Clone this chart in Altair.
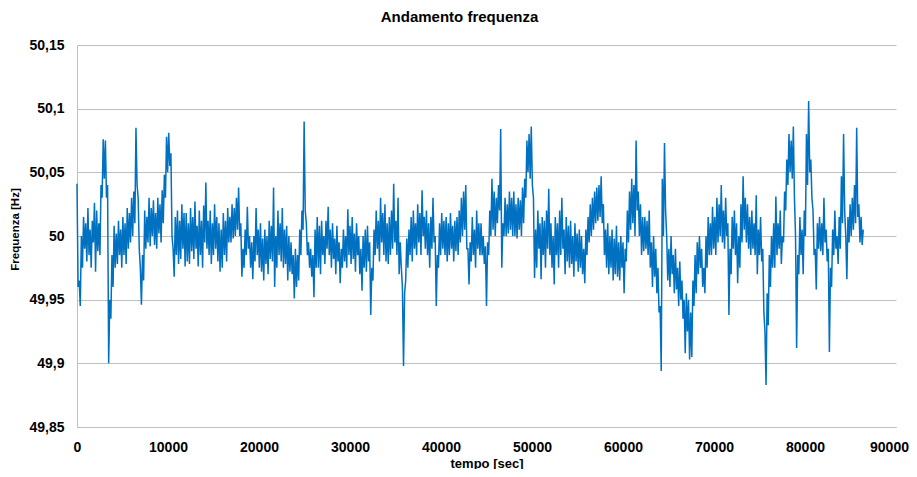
import altair as alt
import pandas as pd

# The recording alternates between two interleaved reading slots:
# slot A at t = 0, 240, 480, ... s and slot B at t = 120, 360, 600, ... s
SLOT_STEP_S = 240
SLOT_B_OFFSET_S = 120

# Slot A readings in Hz (10 per row = 2400 s)
freq_slot_a_hz = [
    50.041, 49.965, 50.000, 50.015, 50.010, 50.022, 50.005, 50.012, 50.026, 50.020,
    50.010, 50.040, 50.076, 50.075, 50.040, 49.950, 49.985, 50.008, 50.002, 50.012,
    50.005, 50.015, 50.010, 50.022, 50.018, 50.030, 50.035, 50.085, 50.030, 49.975,
    49.985, 50.020, 50.015, 50.030, 50.022, 50.028, 50.018, 50.030, 50.025, 50.036,
    50.048, 50.078, 50.081, 50.065, 49.990, 50.015, 50.020, 50.012, 50.025, 50.018,
    50.018, 50.010, 50.022, 50.015, 50.027, 50.008, 50.020, 50.012, 50.024, 50.042,
    50.012, 50.020, 50.010, 50.025, 50.015, 50.010, 50.005, 50.018, 50.012, 50.022,
    50.015, 50.025, 50.022, 50.030, 50.038, 50.010, 49.990, 50.005, 50.023, 50.000,
    49.995, 50.000, 50.022, 50.005, 50.010, 49.998, 50.005, 50.000, 50.012, 50.008,
    50.038, 50.000, 50.020, 50.010, 50.022, 50.005, 50.008, 50.000, 49.995, 49.985,
    49.990, 49.985, 50.005, 50.020, 50.090, 50.010, 49.995, 49.990, 49.985, 50.005,
    50.015, 50.008, 50.012, 50.000, 50.012, 50.023, 50.005, 50.010, 49.998, 50.008,
    49.995, 49.990, 50.005, 50.000, 50.021, 50.008, 50.015, 50.002, 50.010, 50.000,
    49.990, 50.000, 50.005, 50.008, 49.995, 49.975, 50.005, 50.020, 50.012, 50.030,
    50.018, 50.025, 50.010, 50.015, 50.020, 50.041, 50.012, 50.030, 49.995, 49.960,
    49.955, 49.998, 50.005, 50.015, 50.020, 50.010, 50.025, 50.018, 50.036, 50.015,
    50.020, 50.010, 50.015, 50.030, 50.000, 49.985, 50.010, 50.018, 50.012, 50.015,
    50.010, 50.018, 50.008, 50.012, 50.015, 50.020, 50.030, 50.035, 50.040, 49.990,
    49.995, 50.015, 50.005, 50.020, 50.010, 50.010, 50.000, 49.992, 49.995, 50.020,
    50.045, 50.035, 50.030, 50.040, 50.084, 50.010, 50.030, 50.025, 50.035, 50.030,
    50.035, 50.025, 50.030, 50.028, 50.038, 50.045, 50.075, 50.080, 50.086, 50.030,
    50.005, 50.020, 50.010, 50.015, 50.012, 50.020, 50.037, 50.010, 50.000, 50.015,
    50.010, 50.020, 50.030, 50.005, 50.015, 50.008, 50.012, 50.000, 50.010, 50.002,
    50.005, 50.000, 49.990, 50.005, 50.015, 50.025, 50.030, 50.035, 50.038, 50.040,
    50.047, 50.025, 50.005, 50.010, 50.000, 50.005, 49.998, 50.008, 49.995, 50.000,
    49.995, 49.990, 50.020, 50.035, 50.045, 50.040, 50.075, 50.035, 50.025, 50.015,
    50.015, 50.012, 50.020, 49.995, 50.000, 49.990, 49.975, 49.945, 50.045, 50.073,
    50.000, 49.990, 50.000, 49.985, 49.990, 49.975, 49.980, 49.965, 49.950, 49.955,
    49.950, 49.940, 49.965, 49.985, 49.995, 50.000, 49.990, 49.975, 50.000, 50.015,
    50.010, 50.023, 50.015, 50.030, 50.025, 50.040, 50.020, 50.030, 50.010, 49.990,
    50.015, 50.020, 50.010, 50.000, 50.025, 50.047, 50.030, 50.025, 50.015, 50.020,
    50.010, 50.032, 50.005, 50.015, 49.990, 49.925, 49.955, 49.985, 50.000, 50.010,
    50.031, 50.010, 50.020, 50.000, 50.035, 50.060, 50.080, 50.075, 50.086, 50.000,
    49.985, 50.015, 50.005, 50.020, 50.080, 50.106, 50.060, 50.020, 49.990, 50.010,
    50.015, 50.010, 50.030, 50.005, 49.990, 49.975, 50.005, 50.020, 50.000, 50.015,
    50.047, 50.080, 50.000, 50.015, 50.025, 50.030, 50.040, 50.085, 50.025, 50.015,
    50.005,
]

# Slot B readings in Hz (10 per row = 2400 s)
freq_slot_b_hz = [
    49.960, 49.945, 49.975, 49.990, 49.980, 49.985, 49.975, 49.995, 49.972, 49.988,
    49.985, 50.030, 50.045, 50.030, 49.900, 49.935, 49.960, 49.975, 49.978, 49.985,
    49.975, 49.985, 49.978, 49.990, 49.995, 50.000, 50.010, 50.040, 49.990, 49.946,
    49.965, 49.990, 49.995, 49.992, 50.000, 49.993, 49.990, 50.002, 49.995, 50.010,
    50.030, 50.050, 50.055, 50.000, 49.968, 49.985, 49.978, 49.982, 49.990, 49.976,
    49.980, 49.978, 49.988, 49.982, 49.990, 49.976, 49.985, 49.975, 49.995, 49.990,
    49.985, 49.978, 49.985, 49.990, 49.980, 49.972, 49.975, 49.985, 49.980, 49.995,
    49.995, 49.998, 50.000, 50.005, 50.000, 49.968, 49.975, 49.985, 49.990, 49.975,
    49.966, 49.980, 49.985, 49.975, 49.972, 49.965, 49.978, 49.970, 49.982, 49.980,
    49.960, 49.975, 49.985, 49.980, 49.975, 49.978, 49.965, 49.972, 49.970, 49.951,
    49.960, 49.965, 49.985, 50.005, 50.020, 49.985, 49.975, 49.968, 49.952, 49.975,
    49.975, 49.970, 49.985, 49.978, 49.990, 49.985, 49.975, 49.982, 49.970, 49.980,
    49.963, 49.975, 49.980, 49.975, 49.985, 49.978, 49.982, 49.972, 49.985, 49.970,
    49.957, 49.975, 49.972, 49.980, 49.938, 49.965, 49.985, 49.990, 49.980, 49.995,
    49.985, 49.980, 49.978, 49.985, 49.990, 49.995, 49.985, 49.970, 49.975, 49.898,
    49.965, 49.975, 49.985, 49.980, 49.990, 49.985, 49.995, 49.985, 50.000, 49.990,
    49.985, 49.975, 49.990, 49.995, 49.945, 49.975, 49.985, 49.990, 49.985, 49.980,
    49.985, 49.990, 49.980, 49.988, 49.985, 49.995, 50.000, 50.005, 49.990, 49.962,
    49.980, 49.985, 49.975, 49.990, 49.985, 49.985, 49.978, 49.945, 49.985, 50.000,
    50.005, 50.000, 50.010, 50.020, 49.975, 50.000, 50.000, 50.002, 50.005, 50.000,
    50.000, 49.998, 50.005, 50.000, 50.010, 50.030, 50.050, 50.045, 50.040, 49.967,
    49.975, 49.990, 49.966, 49.985, 49.975, 49.990, 49.985, 49.975, 49.962, 49.985,
    49.975, 49.985, 49.990, 49.970, 49.980, 49.975, 49.978, 49.968, 49.980, 49.972,
    49.975, 49.970, 49.963, 49.985, 49.995, 50.000, 50.005, 50.010, 50.012, 50.015,
    50.010, 49.985, 49.975, 49.970, 49.975, 49.965, 49.970, 49.968, 49.965, 49.975,
    49.955, 49.980, 49.995, 50.005, 50.010, 50.000, 50.020, 50.000, 49.985, 49.988,
    49.990, 49.985, 49.975, 49.960, 49.968, 49.955, 49.940, 49.894, 50.000, 50.020,
    49.965, 49.960, 49.970, 49.955, 49.958, 49.945, 49.950, 49.935, 49.908, 49.925,
    49.903, 49.905, 49.945, 49.955, 49.970, 49.975, 49.960, 49.955, 49.975, 49.985,
    49.985, 49.990, 49.985, 49.995, 50.000, 49.995, 49.990, 50.000, 49.938, 49.970,
    49.990, 49.985, 49.963, 49.975, 49.995, 50.005, 49.995, 49.990, 49.985, 49.990,
    49.985, 49.970, 49.985, 49.980, 49.940, 49.883, 49.930, 49.960, 49.975, 49.975,
    49.985, 49.990, 49.978, 49.995, 50.020, 50.040, 50.050, 50.045, 50.030, 49.912,
    49.970, 49.985, 49.970, 50.000, 50.040, 50.050, 50.030, 49.985, 49.958, 49.990,
    49.988, 49.985, 49.995, 49.980, 49.909, 49.960, 49.985, 49.990, 49.978, 49.990,
    50.010, 50.020, 49.966, 49.995, 50.000, 50.005, 50.010, 50.015, 49.995, 49.993,
]

x_ticks = [0, 10000, 20000, 30000, 40000, 50000, 60000, 70000, 80000, 90000]
y_ticks = [49.85, 49.9, 49.95, 50.0, 50.05, 50.1, 50.15]

rows = []
for i, f in enumerate(freq_slot_a_hz):
    rows.append({"t": i * SLOT_STEP_S, "f": f})
for i, f in enumerate(freq_slot_b_hz):
    rows.append({"t": i * SLOT_STEP_S + SLOT_B_OFFSET_S, "f": f})
df = pd.DataFrame(rows).sort_values("t").reset_index(drop=True)

FONT = "Liberation Sans"
GRID = "#bfbfbf"

chart = (
    alt.Chart(df)
    .mark_line(color="#0070C0", strokeWidth=1.5)
    .encode(
        x=alt.X(
            "t:Q",
            sort=None,
            scale=alt.Scale(domain=[0, 90000], nice=False, zero=False),
            axis=alt.Axis(
                values=x_ticks,
                format="d",
                title="tempo [sec]",
                grid=False,
                ticks=False,
                domainColor=GRID,
                domainWidth=1,
                labelFont=FONT,
                labelFontSize=14,
                labelFontWeight="bold",
                labelColor="black",
                labelPadding=13,
                labelFlush=False,
                labelOverlap=False,
                labelOffset=alt.condition("datum.value == 90000", alt.value(-7), alt.value(0)),
                titleFont=FONT,
                titleFontSize=13,
                titleFontWeight="bold",
                titleColor="black",
                titleBaseline="middle",
                titleY=36,
            ),
        ),
        y=alt.Y(
            "f:Q",
            scale=alt.Scale(domain=[49.85, 50.15], nice=False, zero=False),
            axis=alt.Axis(
                values=y_ticks,
                labelExpr="replace(format(datum.value, '.2~f'), '.', ',')",
                title="Frequenza [Hz]",
                grid=True,
                gridColor=GRID,
                gridWidth=1,
                ticks=False,
                domainColor=GRID,
                domainWidth=1,
                labelFont=FONT,
                labelFontSize=14,
                labelFontWeight="bold",
                labelColor="black",
                labelPadding=13,
                labelOverlap=False,
                labelFlush=False,
                titleFont=FONT,
                titleFontSize=11.5,
                titleFontWeight="bold",
                titleColor="black",
                titleAngle=270,
                titleAlign="center",
                titleBaseline="middle",
                titleX=-62,
                titleY=184,
            ),
        ),
    )
    .properties(
        width=819,
        height=382,
        autosize=alt.AutoSizeParams(type="none"),
        padding={"left": 69, "top": 37, "right": 13, "bottom": 42},
        title=alt.TitleParams(
            "Andamento frequenza",
            font=FONT,
            fontSize=15,
            fontWeight="bold",
            color="black",
            anchor="middle",
            frame="group",
            dx=-27,
            offset=13,
        ),
    )
    .configure_view(strokeWidth=0)
)

chart.save("out.html", embed_options={"renderer": "svg", "actions": False})
